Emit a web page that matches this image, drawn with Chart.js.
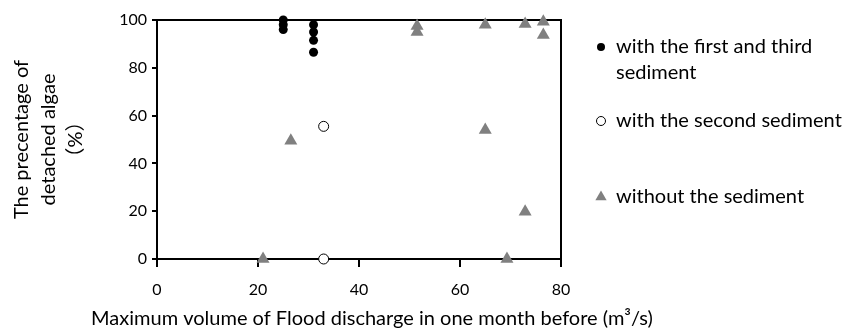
<!DOCTYPE html>
<html>
<head>
<meta charset="utf-8">
<script src="https://cdn.jsdelivr.net/npm/chart.js@4.4.1/dist/chart.umd.min.js"></script>
<style>
  body { margin: 0; background: #fff; }
  #wrap { width: 843px; height: 334px; position: relative; }
</style>
</head>
<body>
<div id="wrap"><canvas id="chart"></canvas></div>
<script>
// values
const firstThirdX = [25, 25, 25, 31, 31, 31, 31];
const firstThirdY = [100, 98, 96, 98, 95, 91.5, 86.5];
const secondX = [33, 33];
const secondY = [55.5, 0];
const withoutX = [21, 26.5, 51.5, 51.5, 65, 65, 69.3, 72.9, 72.9, 76.5, 76.5];
const withoutY = [0, 49.5, 97.5, 95, 98, 54, 0, 98.3, 19.8, 99.3, 93.7];

const seriesNames = [
  ['with the first and third', 'sediment'],
  ['with the second sediment'],
  ['without the sediment']
];
const xTicks = [0, 20, 40, 60, 80];
const yTicks = [0, 20, 40, 60, 80, 100];
const xTitle = 'Maximum volume of Flood discharge in one month before (m\u00b3/s)';
const yTitle = ['The precentage of', 'detached algae', '\uff08%\uff09'];

const FONT = "Lato, 'Noto Sans CJK SC', sans-serif";
const toPoints = (xs, ys) => xs.map((x, i) => ({ x: x, y: ys[i] }));

// legend on the right, drawn with the datasets' own marker styles
const sideLegend = {
  id: 'sideLegend',
  afterDraw(chart) {
    const ctx = chart.ctx;
    const rows = [47, 121, 197];
    const sizes = [4, 4.5, 6.5];
    ctx.save();
    ctx.font = '20px ' + FONT;
    ctx.textBaseline = 'middle';
    chart.data.datasets.forEach((ds, i) => {
      ctx.fillStyle = ds.backgroundColor;
      ctx.strokeStyle = ds.borderColor;
      ctx.lineWidth = ds.borderWidth;
      Chart.helpers.drawPoint(ctx, { pointStyle: ds.pointStyle, radius: sizes[i], borderWidth: ds.borderWidth, rotation: 0 }, 601, rows[i]);
      ctx.fillStyle = '#000';
      seriesNames[i].forEach((line, j) => ctx.fillText(line, 616, rows[i] + j * 26));
    });
    // x axis title, sits a little right of the plot centre in the original
    ctx.textAlign = 'center';
    ctx.fillText(xTitle, 372, 319);
    ctx.restore();
  }
};

new Chart(document.getElementById('chart'), {
  type: 'scatter',
  data: {
    datasets: [
      {
        label: seriesNames[0].join(' '),
        data: toPoints(firstThirdX, firstThirdY),
        pointStyle: 'circle', pointRadius: 4.5, clip: false,
        backgroundColor: '#000', borderColor: '#000', borderWidth: 0
      },
      {
        label: seriesNames[1].join(' '),
        data: toPoints(secondX, secondY),
        pointStyle: 'circle', pointRadius: 5, clip: false,
        backgroundColor: '#fff', borderColor: '#000', borderWidth: 1
      },
      {
        label: seriesNames[2].join(' '),
        data: toPoints(withoutX, withoutY),
        pointStyle: 'triangle', pointRadius: 7.5, clip: false,
        backgroundColor: '#808080', borderColor: '#808080', borderWidth: 0
      }
    ]
  },
  options: {
    responsive: true,
    maintainAspectRatio: false,
    animation: false,
    events: [],
    layout: { padding: { left: 0, top: 20, right: 282, bottom: 0 } },
    plugins: { legend: { display: false }, tooltip: { enabled: false } },
    scales: {
      x: {
        type: 'linear', position: 'bottom',
        min: xTicks[0], max: xTicks[xTicks.length - 1],
        afterBuildTicks: s => { s.ticks = xTicks.map(v => ({ value: v })); },
        afterFit: s => { s.height = 75; },
        grid: { drawOnChartArea: false, drawTicks: true, tickLength: 8, color: '#000', lineWidth: 2 },
        border: { color: '#000', width: 2 },
        ticks: { color: '#000', font: { family: FONT, size: 16 }, padding: 13 }
      },
      y: {
        type: 'linear', position: 'left',
        min: yTicks[0], max: yTicks[yTicks.length - 1],
        afterBuildTicks: s => { s.ticks = yTicks.map(v => ({ value: v })); },
        afterFit: s => { s.width = 157; },
        grid: { drawOnChartArea: false, drawTicks: true, tickLength: 5, color: '#000', lineWidth: 2 },
        border: { color: '#000', width: 2 },
        ticks: { color: '#000', font: { family: FONT, size: 16 }, padding: 5 },
        title: {
          display: true, text: yTitle, color: '#000',
          font: { family: FONT, size: 20, lineHeight: '27px' },
          padding: { top: 8, bottom: 0 }
        }
      },
      x2: {
        type: 'linear', position: 'top', min: 0, max: 1,
        ticks: { display: false }, grid: { display: false },
        border: { color: '#000', width: 2 },
        afterFit: s => { s.height = 0; }
      },
      y2: {
        type: 'linear', position: 'right', min: 0, max: 1,
        ticks: { display: false }, grid: { display: false },
        border: { color: '#000', width: 2 },
        afterFit: s => { s.width = 0; }
      }
    }
  },
  plugins: [sideLegend]
});
</script>
</body>
</html>
